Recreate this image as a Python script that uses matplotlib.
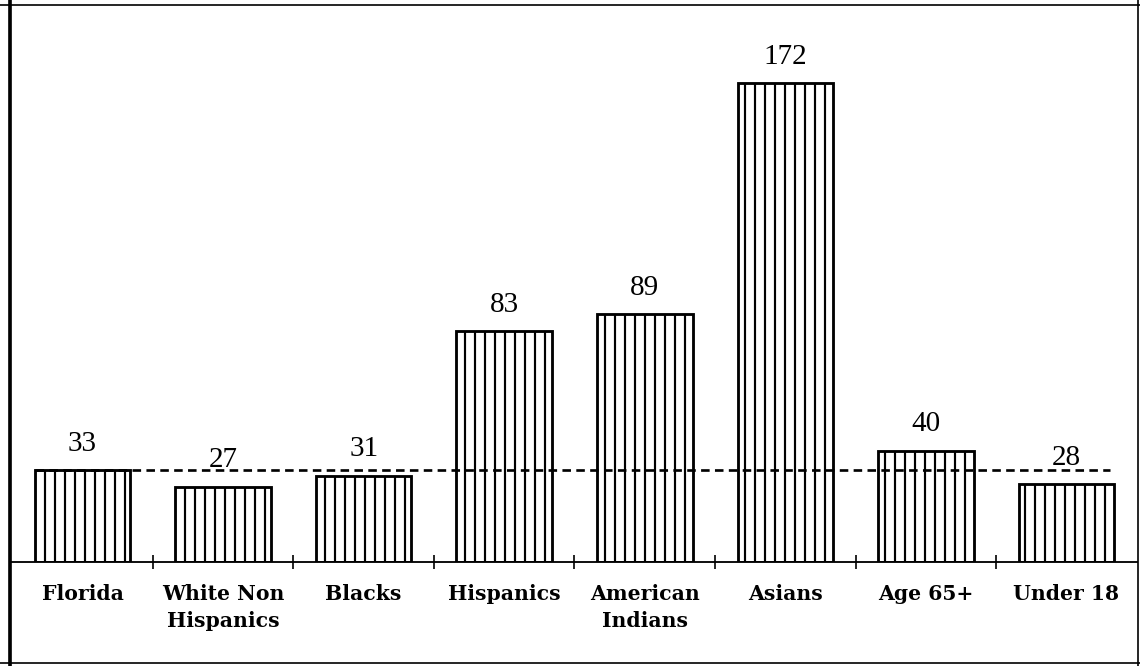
import matplotlib
matplotlib.use("Agg")
import matplotlib.pyplot as plt
from matplotlib.lines import Line2D

categories = ["Florida", "White Non\nHispanics", "Blacks", "Hispanics",
              "American\nIndians", "Asians", "Age 65+", "Under 18"]
values = [33, 27, 31, 83, 89, 172, 40, 28]
reference_level = 33

DPI = 120
plt.rcParams['hatch.linewidth'] = 1.3
fig = plt.figure(figsize=(1140 / DPI, 666 / DPI), dpi=DPI)
fig.patch.set_facecolor("white")

ax = fig.add_axes([10 / 1140, (666 - 562) / 666, (1137 - 10) / 1140, (562 - 4) / 666])
x = list(range(len(categories)))
ax.bar(x, values, width=0.68, color="white", edgecolor="black",
       linewidth=1.7, hatch="||", zorder=2)

for xi, v in zip(x, values):
    ax.annotate(str(v), (xi, v), xytext=(0, 8), textcoords="offset points",
                ha="center", va="bottom", fontsize=17.5,
                family="Liberation Serif", zorder=4)

ax.hlines(reference_level, -0.34, len(categories) - 1 + 0.31, colors="black",
          linestyles=(0, (3.2, 2.0)), linewidth=1.6, zorder=3)

ax.set_xlim(-0.516, len(categories) - 1 + 0.502)
ax.set_ylim(0, 200.4)

for s in ["left", "right", "top"]:
    ax.spines[s].set_visible(False)
ax.spines["bottom"].set_linewidth(1.1)
ax.set_yticks([])

ax.set_xticks([i + 0.5 for i in range(len(categories) - 1)])
ax.set_xticklabels([])
ax.tick_params(axis="x", which="major", direction="inout", length=8, width=1.0)
ax.set_xticks(x, minor=True)
ax.set_xticklabels(categories, minor=True, fontsize=12.2, fontweight="bold",
                   family="DejaVu Serif", linespacing=1.45)
ax.tick_params(axis="x", which="minor", length=0, pad=13)

# Figure border
fig.add_artist(Line2D([9.5 / 1140, 9.5 / 1140], [0, 1], transform=fig.transFigure,
                      color="black", linewidth=2.2))
fig.add_artist(Line2D([0, 1], [1 - 4.5 / 666, 1 - 4.5 / 666], transform=fig.transFigure,
                      color="black", linewidth=1.0))
fig.add_artist(Line2D([1137.5 / 1140, 1137.5 / 1140], [0, 1], transform=fig.transFigure,
                      color="black", linewidth=1.0))
fig.add_artist(Line2D([0, 1], [3.5 / 666, 3.5 / 666], transform=fig.transFigure,
                      color="black", linewidth=1.0))

fig.savefig("out.png", dpi=DPI, facecolor="white")
